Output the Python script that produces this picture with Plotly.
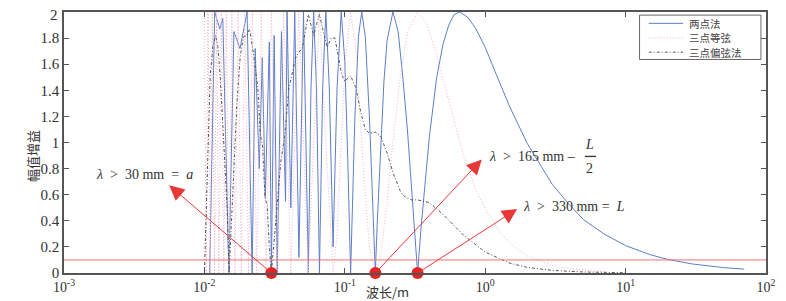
import math
import plotly.graph_objects as go

# ---------------- data ----------------
# 两点法 (two-point method)
two_lambda = [0.0109, 0.01184, 0.01287, 0.01352, 0.01494, 0.01623, 0.01793, 0.02014,
              0.02188, 0.0230, 0.02458, 0.02584, 0.02715, 0.02901, 0.0300, 0.0314,
              0.0330, 0.0354, 0.03783, 0.0388, 0.04125, 0.0440, 0.0471, 0.0508,
              0.0550, 0.0574, 0.0600, 0.0629, 0.0660, 0.0695, 0.0733, 0.0776, 0.0825,
              0.088, 0.0943, 0.100, 0.105, 0.110,
              0.118, 0.125, 0.132, 0.140, 0.150, 0.158, 0.165,
              0.170, 0.180, 0.190, 0.200, 0.220, 0.240, 0.260, 0.280, 0.300, 0.315, 0.330,
              0.35, 0.40, 0.45, 0.50, 0.55, 0.60, 0.66, 0.75, 0.85, 1.0, 1.2, 1.5,
              2.0, 3.0, 4.0, 5.0, 7.0, 10.0, 15.0, 20.0, 30.0, 50.0, 70.0]
two_gain = [0.0, 2.0, 1.87, 1.95, 0.0, 1.85, 1.72, 2.0,
            0.0, 1.72, 0.80, 1.65, 0.58, 1.77, 0.0, 1.82,
            0.0, 1.85, 0.55, 2.0, 0.50, 2.0, 0.12, 2.0,
            0.0, 1.41, 2.0, 1.41, 0.0, 1.41, 2.0, 1.41, 0.20,
            1.41, 2.0, 1.62, 0.87, 0.0,
            1.19, 1.81, 2.0, 1.81, 1.18, 0.55, 0.0,
            0.37, 1.00, 1.47, 1.78, 2.0, 1.85, 1.48, 1.08, 0.62, 0.30, 0.0,
            0.36, 1.04, 1.49, 1.75, 1.90, 1.98, 2.0, 1.96, 1.88, 1.73, 1.52, 1.27,
            0.99, 0.68, 0.52, 0.41, 0.30, 0.21, 0.14, 0.104, 0.069, 0.041, 0.030]

# 三点等弦 (three-point equal chord)
equal_lambda = [0.0100, 0.0103, 0.0106, 0.0110, 0.0114, 0.0118, 0.0122, 0.0127, 0.0132,
                0.01375, 0.0143, 0.0150, 0.0157, 0.0165, 0.0174, 0.0183, 0.0194, 0.0206,
                0.0220, 0.0236, 0.0254, 0.0275, 0.0300, 0.0330, 0.0367, 0.0388, 0.04125,
                0.0440, 0.0471, 0.0508, 0.0550, 0.0600, 0.0660, 0.0733, 0.0825,
                0.088, 0.095, 0.100, 0.110, 0.120, 0.130, 0.140, 0.150, 0.165,
                0.18, 0.20, 0.22, 0.25, 0.28, 0.33, 0.38, 0.45, 0.50, 0.60, 0.70, 0.85,
                1.0, 1.3, 1.6, 2.0, 3.0, 4.0, 6.0, 7.0]
equal_gain = [2.0, 0.0, 2.0, 0.0, 2.0, 0.0, 2.0, 0.0, 2.0,
              0.0, 2.0, 0.0, 2.0, 0.0, 2.0, 0.0, 2.0, 0.0,
              2.0, 0.0, 2.0, 0.0, 2.0, 0.0, 2.0, 1.0, 0.0,
              1.0, 2.0, 1.0, 0.0, 1.0, 2.0, 1.0, 0.0,
              0.29, 1.09, 1.59, 2.0, 1.71, 1.10, 0.58, 0.19, 0.0,
              0.13, 0.545, 1.0, 1.53, 1.85, 2.0, 1.92, 1.67, 1.49, 1.16, 0.90, 0.65,
              0.49, 0.30, 0.20, 0.13, 0.059, 0.033, 0.015, 0.012]

# 三点偏弦法 (three-point offset chord)
offset_lambda = [0.0100, 0.0105, 0.0110, 0.0115, 0.0120, 0.0125, 0.0130, 0.0135, 0.0140,
                 0.0145, 0.0150, 0.0160, 0.0165, 0.0170, 0.0180, 0.0190, 0.0200, 0.0210,
                 0.0225, 0.0240, 0.0250, 0.0260, 0.0270, 0.0280, 0.0290, 0.0300, 0.0310,
                 0.0330, 0.0350, 0.0375, 0.0400, 0.0450, 0.0500, 0.0550, 0.0600, 0.0630,
                 0.0660, 0.0700, 0.0750, 0.0800, 0.0850, 0.0900, 0.0950, 0.1000, 0.1100,
                 0.1200, 0.1300, 0.1400, 0.1500, 0.1650, 0.1800, 0.2000, 0.2200, 0.2500,
                 0.2700, 0.3000, 0.3300, 0.4000, 0.5000, 0.7000, 1.0, 1.5, 2.0, 3.0, 5.0, 10.0]
offset_gain = [0.0, 0.85, 1.51, 1.74, 1.82, 1.73, 1.48, 1.15, 0.85,
               0.51, 0.0, 0.66, 1.08, 1.28, 1.66, 1.81, 1.82, 1.87,
               1.66, 1.42, 1.07, 0.96, 0.58, 0.52, 0.20, 0.0, 0.18,
               0.56, 0.85, 1.07, 1.42, 1.66, 1.73, 1.98, 1.82, 1.91,
               1.98, 1.86, 1.73, 1.80, 1.80, 1.66, 1.52, 1.47, 1.51,
               1.42, 1.23, 1.10, 1.07, 1.08, 1.05, 0.92, 0.77, 0.62,
               0.58, 0.56, 0.56, 0.54, 0.45, 0.29, 0.16, 0.075, 0.043, 0.020, 0.008, 0.002]

# key wavelengths (m): a = 30 mm, L/2 = 165 mm, L = 330 mm
key_lambda = [0.030, 0.165, 0.330]
key_gain = [0.0, 0.0, 0.0]
threshold = 0.1

x_tickvals = [1e-3, 1e-2, 1e-1, 1e0, 1e1, 1e2]
x_ticktext = ["10<sup>-3</sup>", "10<sup>-2</sup>", "10<sup>-1</sup>",
              "10<sup>0</sup>", "10<sup>1</sup>", "10<sup>2</sup>"]
y_tickvals = [0, 0.2, 0.4, 0.6, 0.8, 1.0, 1.2, 1.4, 1.6, 1.8, 2.0]
y_ticktext = ["0", "0.2", "0.4", "0.6", "0.8", "1", "1.2", "1.4", "1.6", "1.8", ""]
y_top_label = "2"
series_names = ["两点法", "三点等弦", "三点偏弦法"]

# ---------------- styles ----------------
SERIF = "Liberation Serif, Times New Roman, serif"
CJK = "Noto Sans CJK SC, sans-serif"
AX = "#555555"
TXT = "#333333"
styles = [dict(color="rgb(95,125,200)", width=1),
          dict(color="rgb(241,180,196)", width=1, dash="1px,2px"),
          dict(color="rgb(85,85,85)", width=1, dash="3px,2px,1px,2px")]

fig = go.Figure()
for name, xs, ys, st in zip(series_names,
                            [two_lambda, equal_lambda, offset_lambda],
                            [two_gain, equal_gain, offset_gain], styles):
    fig.add_trace(go.Scatter(x=xs, y=ys, mode="lines", name=name, line=st, showlegend=False))
fig.add_trace(go.Scatter(x=key_lambda, y=key_gain, mode="markers", showlegend=False,
                         cliponaxis=False,
                         marker=dict(color="rgb(228,35,35)", size=12, symbol="circle")))

fig.add_shape(type="line", xref="paper", x0=0, x1=1, yref="y", y0=threshold, y1=threshold,
              line=dict(color="rgb(240,115,115)", width=1))

# page places the figure 8 px in from the top-left; plot area in screen px is 64..758 x 12..265
def px2paper(px, py):
    return (px - 64) / 694.0, (265 - py) / 253.0


# arrows from the key points to the labels
arrow_tips = [(-2.2507, 0.672), (-0.0245, 0.87), (0.2277, 0.49)]
for lam, (tx, ty) in zip(key_lambda, arrow_tips):
    fig.add_annotation(x=tx, y=ty, xref="x", yref="y", ax=math.log10(lam), ay=0,
                       axref="x", ayref="y", text="", showarrow=True,
                       arrowhead=2, arrowsize=3.0, arrowwidth=1,
                       arrowcolor="rgb(232,55,55)", standoff=0, startstandoff=0)

NB = "\u00a0"
labels = [
    (94, 170, f"<i>λ</i>{NB*2}>{NB*2}30{NB}mm{NB*2}={NB*2}<i>a</i>"),
    (482, 152, f"<i>λ</i>{NB*2}>{NB*2}165{NB}mm{NB}–"),
    (516, 201, f"<i>λ</i>{NB*2}>{NB*2}330{NB}mm{NB}={NB*2}<i>L</i>"),
]
for px, py, t in labels:
    xp, yp = px2paper(px, py)
    fig.add_annotation(x=xp, y=yp, xref="paper", yref="paper", text=t, showarrow=False,
                       xanchor="left", yanchor="middle",
                       font=dict(family=SERIF, size=14, color=TXT))
# fraction L/2
for px, py, t in [(584, 140, "<i>L</i>"), (584, 164, "2")]:
    xp, yp = px2paper(px, py)
    fig.add_annotation(x=xp, y=yp, xref="paper", yref="paper", text=t, showarrow=False,
                       xanchor="center", yanchor="middle",
                       font=dict(family=SERIF, size=14, color=TXT))
x0p, yb = px2paper(579, 152)
x1p, _ = px2paper(590, 152)
fig.add_shape(type="line", xref="paper", yref="paper", x0=x0p, x1=x1p, y0=yb, y1=yb,
              line=dict(color=TXT, width=1.3))

# top y tick label kept inside the figure box
xp, yp = px2paper(59, 14.5)
fig.add_annotation(x=xp, y=yp, xref="paper", yref="paper", text=y_top_label, showarrow=False,
                   xanchor="right", yanchor="middle", height=12, borderpad=0,
                   font=dict(family=SERIF, size=15, color=TXT))

# axis titles
xp, yp = px2paper(384, 283)
fig.add_annotation(x=xp, y=yp, xref="paper", yref="paper", text="波长/m", showarrow=False,
                   xanchor="center", yanchor="middle",
                   font=dict(family=CJK, size=13, color=TXT))
xp, yp = px2paper(33, 152)
fig.add_annotation(x=xp, y=yp, xref="paper", yref="paper", text="幅值增益", showarrow=False,
                   xanchor="center", yanchor="middle",
                   textangle=-90, font=dict(family=CJK, size=13, color=TXT))

# legend (drawn as box + samples + labels to match the compact original)
bx0, by0 = px2paper(633, 15)
bx1, by1 = px2paper(753, 58)
fig.add_shape(type="rect", xref="paper", yref="paper", x0=bx0, x1=bx1, y0=by1, y1=by0,
              line=dict(color="#666666", width=1), fillcolor="white", layer="above")
for i, (name, st) in enumerate(zip(series_names, styles)):
    ry = 23 + i * 14
    lx0, ly = px2paper(642, ry)
    lx1, _ = px2paper(676, ry)
    fig.add_shape(type="line", xref="paper", yref="paper", x0=lx0, x1=lx1, y0=ly, y1=ly,
                  line=st, layer="above")
    tx, ty = px2paper(680, ry)
    fig.add_annotation(x=tx, y=ty, xref="paper", yref="paper", text=name, showarrow=False,
                       xanchor="left", yanchor="middle", height=13,
                       font=dict(family=CJK, size=10.5, color="#444444"))

fig.update_xaxes(type="log", range=[-3, 2], tickvals=x_tickvals, ticktext=x_ticktext,
                 showgrid=False, zeroline=False, showline=True, linecolor=AX, linewidth=1.5,
                 mirror="ticks", ticks="inside", ticklen=5, tickcolor=AX, automargin=False,
                 ticklabeloverflow="allow",
                 tickfont=dict(family=SERIF, size=14, color=TXT))
fig.update_yaxes(range=[0, 2], tickvals=y_tickvals, ticktext=y_ticktext, automargin=False,
                 ticklabeloverflow="allow",
                 showgrid=False, zeroline=False, showline=True, linecolor=AX, linewidth=1.5,
                 mirror="ticks", ticks="inside", ticklen=5, tickcolor=AX,
                 tickfont=dict(family=SERIF, size=15, color=TXT))

# figure is drawn at an 8 px offset inside the page, so it is sized 778 x 293
fig.update_layout(
    width=778, height=293,
    margin=dict(l=56, r=20, t=4, b=28),
    paper_bgcolor="white", plot_bgcolor="white",
    showlegend=False,
)

fig.write_html("out.html")
